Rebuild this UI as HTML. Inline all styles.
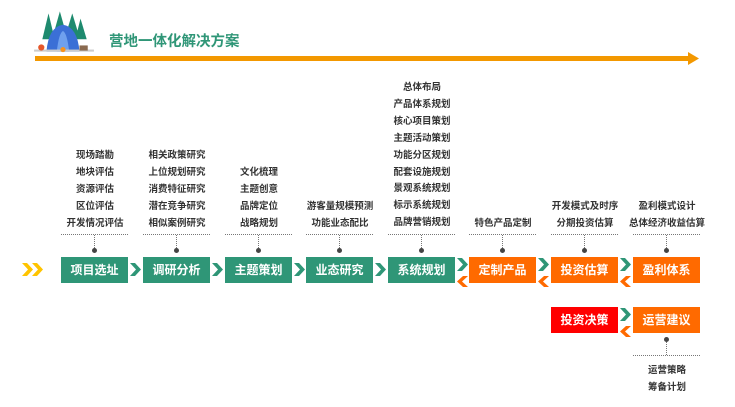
<!DOCTYPE html>
<html><head><meta charset="utf-8"><style>
body{margin:0;width:735px;height:407px;background:#fff;position:relative;overflow:hidden;font-family:"Liberation Sans","Noto Sans CJK SC",sans-serif;}
.a{position:absolute;}
.box{position:absolute;width:67px;height:26px;color:#fff;font-size:12px;font-weight:bold;text-align:center;line-height:26px;}
.g{background:#2f9677;}
.o{background:#ff6a00;}
.r{background:#ff0000;}
.col{position:absolute;width:110px;text-align:center;font-size:9.5px;color:#333;line-height:16.9px;font-weight:bold;}
.hd{position:absolute;height:0;border-top:1.5px dotted #777;}
.vd{position:absolute;width:0;border-left:1.5px dotted #777;}
.dot{position:absolute;width:5px;height:5px;border-radius:50%;background:#444;}
</style></head><body>
<svg class="a" style="left:32px;top:8px" width="64" height="47" viewBox="0 0 62 45">
<polygon points="10,30 16,5 22,30" fill="#1e8a6e"/><polygon points="20,28 27,3 34,28" fill="#1e8a6e"/><polygon points="32,28 39,5 46,28" fill="#1e8a6e"/><polygon points="42,30 47,10 53,30" fill="#1e8a6e"/>
<path d="M14,42 Q16,18 30,16 Q44,18 46,42 Z" fill="#3b6fd6"/><path d="M24,42 Q26,24 30,22 Q34,24 36,42Z" fill="#6fa0ee"/>
<rect x="2" y="40" width="58" height="2" fill="#ccc"/><circle cx="30" cy="40" r="2.5" fill="#f7931e"/><circle cx="9" cy="38" r="3" fill="#e5572b"/><rect x="46" y="36" width="8" height="5" fill="#8a6a50"/>
</svg>
<div class="a" style="left:109px;top:30px;font-size:14.5px;font-weight:bold;color:#2f9677;">营地一体化解决方案</div>
<div class="a" style="left:35px;top:56px;width:656px;height:5px;background:#f39800;"></div>
<svg class="a" style="left:688px;top:52px" width="11" height="13"><polygon points="0,0 11,6.5 0,13" fill="#f39800"/></svg>

<svg class="a" style="left:0;top:0" width="735" height="407">
<defs>
<polygon id="gr" points="0,0 5,0 11,6.5 5,13 0,13 6,6.5"/>
<polygon id="ol" points="11,0 6,0 0,5.5 6,11 11,11 5,5.5"/>
</defs>
<g fill="#ffc400"><use href="#gr" x="22" y="263"/><use href="#gr" x="32" y="263"/></g>
<g fill="#2f9677">
<use href="#gr" x="130" y="263"/><use href="#gr" x="212" y="263"/><use href="#gr" x="294" y="263"/><use href="#gr" x="375" y="263"/>
<use href="#gr" x="457" y="258"/><use href="#gr" x="538" y="258"/><use href="#gr" x="620" y="258"/><use href="#gr" x="620" y="308"/>
</g>
<g fill="#ff6a00">
<use href="#ol" x="457" y="276"/><use href="#ol" x="538" y="276"/><use href="#ol" x="620" y="276"/><use href="#ol" x="620" y="326"/>
</g>
</svg>

<div class="box g" style="left:61px;top:257px">项目选址</div>
<div class="box g" style="left:143px;top:257px">调研分析</div>
<div class="box g" style="left:225px;top:257px">主题策划</div>
<div class="box g" style="left:306px;top:257px">业态研究</div>
<div class="box g" style="left:388px;top:257px">系统规划</div>
<div class="box o" style="left:469px;top:257px">定制产品</div>
<div class="box o" style="left:551px;top:257px">投资估算</div>
<div class="box o" style="left:633px;top:257px">盈利体系</div>
<div class="box r" style="left:551px;top:307px">投资决策</div>
<div class="box o" style="left:633px;top:307px">运营建议</div>

<div class="col" style="left:40px;top:148px">现场踏勘<br>地块评估<br>资源评估<br>区位评估<br>开发情况评估</div>
<div class="col" style="left:122px;top:148px">相关政策研究<br>上位规划研究<br>消费特征研究<br>潜在竞争研究<br>相似案例研究</div>
<div class="col" style="left:204px;top:165px">文化梳理<br>主题创意<br>品牌定位<br>战略规划</div>
<div class="col" style="left:285px;top:199px">游客量规模预测<br>功能业态配比</div>
<div class="col" style="left:367px;top:80px">总体布局<br>产品体系规划<br>核心项目策划<br>主题活动策划<br>功能分区规划<br>配套设施规划<br>景观系统规划<br>标示系统规划<br>品牌营销规划</div>
<div class="col" style="left:448px;top:216px">特色产品定制</div>
<div class="col" style="left:530px;top:199px">开发模式及时序<br>分期投资估算</div>
<div class="col" style="left:612px;top:199px">盈利模式设计<br>总体经济收益估算</div>
<div class="col" style="left:612px;top:363px">运营策略<br>筹备计划</div>

<div class="hd" style="left:61px;top:234px;width:67px"></div><div class="vd" style="left:94px;top:235px;height:15px"></div><div class="dot" style="left:92px;top:248px"></div>
<div class="hd" style="left:143px;top:234px;width:67px"></div><div class="vd" style="left:176px;top:235px;height:15px"></div><div class="dot" style="left:174px;top:248px"></div>
<div class="hd" style="left:225px;top:234px;width:67px"></div><div class="vd" style="left:258px;top:235px;height:15px"></div><div class="dot" style="left:256px;top:248px"></div>
<div class="hd" style="left:306px;top:234px;width:67px"></div><div class="vd" style="left:339px;top:235px;height:15px"></div><div class="dot" style="left:337px;top:248px"></div>
<div class="hd" style="left:388px;top:234px;width:67px"></div><div class="vd" style="left:421px;top:235px;height:15px"></div><div class="dot" style="left:419px;top:248px"></div>
<div class="hd" style="left:469px;top:234px;width:67px"></div><div class="vd" style="left:502px;top:235px;height:15px"></div><div class="dot" style="left:500px;top:248px"></div>
<div class="hd" style="left:551px;top:234px;width:67px"></div><div class="vd" style="left:584px;top:235px;height:15px"></div><div class="dot" style="left:582px;top:248px"></div>
<div class="hd" style="left:633px;top:234px;width:67px"></div><div class="vd" style="left:666px;top:235px;height:15px"></div><div class="dot" style="left:664px;top:248px"></div>
<div class="hd" style="left:633px;top:355px;width:67px"></div><div class="vd" style="left:666px;top:340px;height:15px"></div><div class="dot" style="left:664px;top:337px"></div>
</body></html>
